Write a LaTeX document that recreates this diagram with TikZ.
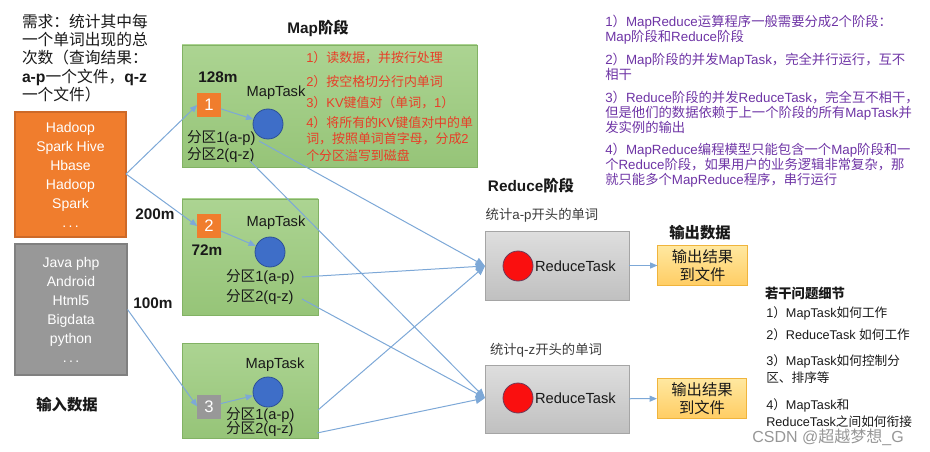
\documentclass[tikz,border=0pt]{standalone}
\usepackage{fontspec}
\setmainfont{Liberation Sans}
\newfontfamily\cjkfam{Noto Sans CJK SC}
\newfontfamily\latfam{Liberation Sans}
\usetikzlibrary{arrows.meta}
\definecolor{inorange}{RGB}{240,125,45}
\definecolor{inorangeb}{RGB}{205,105,40}
\definecolor{ingray}{RGB}{152,152,152}
\definecolor{ingrayb}{RGB}{128,128,128}
\definecolor{mgreenT}{RGB}{172,212,146}
\definecolor{mgreenB}{RGB}{150,196,120}
\definecolor{mgreenE}{RGB}{130,178,100}
\definecolor{rgrayT}{RGB}{222,222,222}
\definecolor{rgrayB}{RGB}{192,192,192}
\definecolor{rgrayE}{RGB}{165,165,165}
\definecolor{outT}{RGB}{255,232,160}
\definecolor{outB}{RGB}{255,205,100}
\definecolor{outE}{RGB}{240,180,60}
\definecolor{mblue}{RGB}{62,110,200}
\definecolor{mblueE}{RGB}{45,80,150}
\definecolor{rred}{RGB}{250,15,15}
\definecolor{rredE}{RGB}{110,60,90}
\definecolor{lineblue}{RGB}{125,168,215}
\definecolor{txt}{RGB}{25,25,25}
\definecolor{redtxt}{RGB}{232,62,40}
\definecolor{purp}{RGB}{110,52,165}
\definecolor{wm}{RGB}{150,150,150}
\newcommand\fsz[2]{\fontsize{#1pt}{#2pt}\selectfont}
% automatic switch between Latin and CJK fonts
\count255="3000
\loop \XeTeXcharclass\count255=10 \ifnum\count255<"303F \advance\count255 by 1 \repeat
\count255="4E00
\loop \XeTeXcharclass\count255=10 \ifnum\count255<"9FFF \advance\count255 by 1 \repeat
\count255="FF00
\loop \XeTeXcharclass\count255=10 \ifnum\count255<"FFEF \advance\count255 by 1 \repeat
\XeTeXinterchartoks 0 10 = {\cjkfam}
\XeTeXinterchartoks 10 0 = {\latfam}
\XeTeXinterchartoks 4095 10 = {\cjkfam}
\XeTeXinterchartoks 4095 0 = {\latfam}
\begin{document}
\XeTeXinterchartokenstate=1
\begin{tikzpicture}[x=0.75pt,y=-0.75pt,
  lbl/.style={inner sep=0pt,outer sep=0pt,text=txt},
  inbox/.style={draw=#1b,fill=#1,line width=0.8pt,inner sep=0pt,text=white,align=center,font=\fsz{10.5}{14.25}},
  mapbox/.style={draw=mgreenE,top color=mgreenT,bottom color=mgreenB,line width=0.6pt,inner sep=0pt},
  redbox/.style={draw=rgrayE,top color=rgrayT,bottom color=rgrayB,line width=0.6pt,inner sep=0pt,minimum width=108pt},
  outbox/.style={draw=outE,top color=outT,bottom color=outB,line width=0.6pt,inner sep=0pt,minimum width=67pt,minimum height=30pt,align=center,font=\fsz{11.5}{13.5},text=txt},
  sqbox/.style={fill=#1,draw=#1,minimum size=17.25pt,inner sep=0pt,text=white,font=\fsz{12.5}{12.5}},
  mtask/.style={circle,fill=mblue,draw=mblueE,line width=0.6pt,minimum size=22.5pt,inner sep=0pt},
  rtask/.style={circle,fill=rred,draw=rredE,line width=0.6pt,minimum size=22.5pt,inner sep=0pt},
  arr/.style={draw=lineblue,line width=0.75pt,-{Triangle[length=5.5pt,width=4.5pt]}},
  arrbig/.style={draw=lineblue,line width=0.75pt,-{Triangle[length=7pt,width=6pt]}},
  btitle/.style={lbl,font=\fsz{11.5}{13}\bfseries},
  ptxt/.style={lbl,font=\fsz{11}{13}},
  redt/.style={inner sep=0pt,text=redtxt,font=\fsz{9.7}{12.3},align=left},
  purt/.style={inner sep=0pt,text=purp,font=\fsz{10}{11.25},align=left},
  qt/.style={inner sep=0pt,text=txt,font=\fsz{9.5}{13},align=left}
]
\useasboundingbox (0,0) rectangle (930,452);

% top-left requirement text
\node[lbl,anchor=west,align=left,font=\fsz{11.8}{13.6}] (req) at (22,58)
  {需求：统计其中每\\一个单词出现的总\\次数（查询结果：\\\textbf{a-p}一个文件，\textbf{q-z}\\一个文件）};

% input boxes
\node[inbox=inorange,minimum width=83.25pt,minimum height=93.75pt] (in1) at (70.5,174.5)
  {Hadoop\\Spark Hive\\Hbase\\Hadoop\\Spark\\.\,.\,.};
\node[inbox=ingray,minimum width=84pt,minimum height=98.25pt] (in2) at (71,309.5)
  {Java php\\Android\\Html5\\Bigdata\\python\\.\,.\,.};
\node[btitle] (intitle) at (67,405) {输入数据};
\node[btitle] (s200) at (155,214) {200m};
\node[btitle] (s100) at (153,303) {100m};

% Map stage
\node[btitle] (maptitle) at (318,28) {Map阶段};
\node[mapbox,minimum width=221.25pt,minimum height=91.5pt] (m1) at (329.5,106) {};
\node[mapbox,minimum width=102pt,minimum height=87pt] (m2) at (250,257) {};
\node[mapbox,minimum width=102pt,minimum height=71.25pt] (m3) at (250,390.5) {};

% map box 1
\node[btitle] (s128) at (218,77) {128m};
\node[sqbox=inorange] (q1) at (209,105) {1};
\node[lbl,font=\fsz{11}{13}] (mt1) at (276,93) {MapTask};
\node[mtask] (c1) at (268,124) {};
\node[ptxt,anchor=west] (p11) at (187,138) {分区1(a-p)};
\node[ptxt,anchor=west] (p12) at (187,155) {分区2(q-z)};
\node[redt,anchor=west] (rt1) at (306,58) {1）读数据，并按行处理};
\node[redt,anchor=west] (rt2) at (306,82) {2）按空格切分行内单词};
\node[redt,anchor=west] (rt3) at (306,103) {3）KV键值对（单词，1）};
\node[redt,anchor=west] (rt4) at (306,139) {4）将所有的KV键值对中的单\\词，按照单词首字母，分成2\\个分区溢写到磁盘};

% map box 2
\node[sqbox=inorange] (q2) at (209,226) {2};
\node[btitle] (s72) at (207,250) {72m};
\node[lbl,font=\fsz{11}{13}] (mt2) at (276,223) {MapTask};
\node[mtask] (c2) at (270,252) {};
\node[ptxt,anchor=west] (p21) at (226,277) {分区1(a-p)};
\node[ptxt,anchor=west] (p22) at (226,297) {分区2(q-z)};

% map box 3
\node[sqbox=ingray] (q3) at (209,406.5) {3};
\node[lbl,font=\fsz{11}{13}] (mt3) at (275,365) {MapTask};
\node[mtask] (c3) at (268,392) {};
\node[ptxt,anchor=west] (p31) at (226,415) {分区1(a-p)};
\node[ptxt,anchor=west] (p32) at (226,429) {分区2(q-z)};

% Reduce stage
\node[btitle] (redtitle) at (531,186) {Reduce阶段};
\node[lbl,font=\fsz{10}{12},text=txt!85] (rl1) at (542,215) {统计a-p开头的单词};
\node[redbox,minimum height=51.75pt] (r1) at (557,265.5) {};
\node[rtask] (rc1) at (518,266) {};
\node[lbl,anchor=west,font=\fsz{11}{13}] (rtk1) at (535,266) {ReduceTask};
\node[lbl,font=\fsz{10}{12},text=txt!85] (rl2) at (546,350) {统计q-z开头的单词};
\node[redbox,minimum height=51pt] (r2) at (557,399) {};
\node[rtask] (rc2) at (518,398) {};
\node[lbl,anchor=west,font=\fsz{11}{13}] (rtk2) at (535,398) {ReduceTask};

% output
\node[btitle] (outtitle) at (700,233) {输出数据};
\node[outbox] (o1) at (702.5,265.5) {输出结果\\到文件};
\node[outbox] (o2) at (702,398.5) {输出结果\\到文件};

% right texts
\node[purt,anchor=west] (pt1) at (605,29.5) {1）MapReduce运算程序一般需要分成2个阶段：\\Map阶段和Reduce阶段};
\node[purt,anchor=west] (pt2) at (605,67) {2）Map阶段的并发MapTask，完全并行运行，互不\\相干};
\node[purt,anchor=west] (pt3) at (605,112.5) {3）Reduce阶段的并发ReduceTask，完全互不相干，\\但是他们的数据依赖于上一个阶段的所有MapTask并\\发实例的输出};
\node[purt,anchor=west] (pt4) at (605,165) {4）MapReduce编程模型只能包含一个Map阶段和一\\个Reduce阶段，如果用户的业务逻辑非常复杂，那\\就只能多个MapReduce程序，串行运行};

\node[lbl,anchor=west,font=\fsz{10}{12}\bfseries] (qtitle) at (765,293) {若干问题细节};
\node[qt,anchor=west] (qq1) at (766,313) {1）MapTask如何工作};
\node[qt,anchor=west] (qq2) at (766,335) {2）ReduceTask 如何工作};
\node[qt,anchor=west] (qq3) at (766,369) {3）MapTask如何控制分\\区、排序等};
\node[qt,anchor=west,font=\fsz{9.5}{12.75}] (qq4) at (766,413.5) {4）MapTask和\\ReduceTask之间如何衔接};

\node[inner sep=0pt,text=wm,font=\fsz{12}{14}] (wmark) at (828,437) {CSDN @超越梦想\_G};

% connectors
\coordinate (in1e) at (126,174);
\draw[arr] (in1e) -- (q1.west);
\draw[arr] (in1e) -- (q2.west);
\draw[arr] (in2.east) -- (q3.west);
\draw[arr] (q1) -- (c1);
\draw[arr] (q2) -- (c2);
\draw[arr] (q3) -- (c3);

\coordinate (r1in) at (485,266);
\coordinate (r2in) at (485,398);
\coordinate (s11) at (259,141);
\coordinate (s12) at (250,161);
\coordinate (s21) at (302,277);
\coordinate (s22) at (302,299);
\coordinate (s31) at (318,410);
\coordinate (s32) at (317,433);
\draw[arrbig] (s11) -- (r1in);
\draw[arrbig] (s21) -- (r1in);
\draw[arrbig] (s31) -- (r1in);
\draw[arrbig] (s12) -- (r2in);
\draw[arrbig] (s22) -- (r2in);
\draw[arrbig] (s32) -- (r2in);
\draw[arr] (r1) -- (o1);
\draw[arr] (r2) -- (o2);
\end{tikzpicture}
\end{document}
